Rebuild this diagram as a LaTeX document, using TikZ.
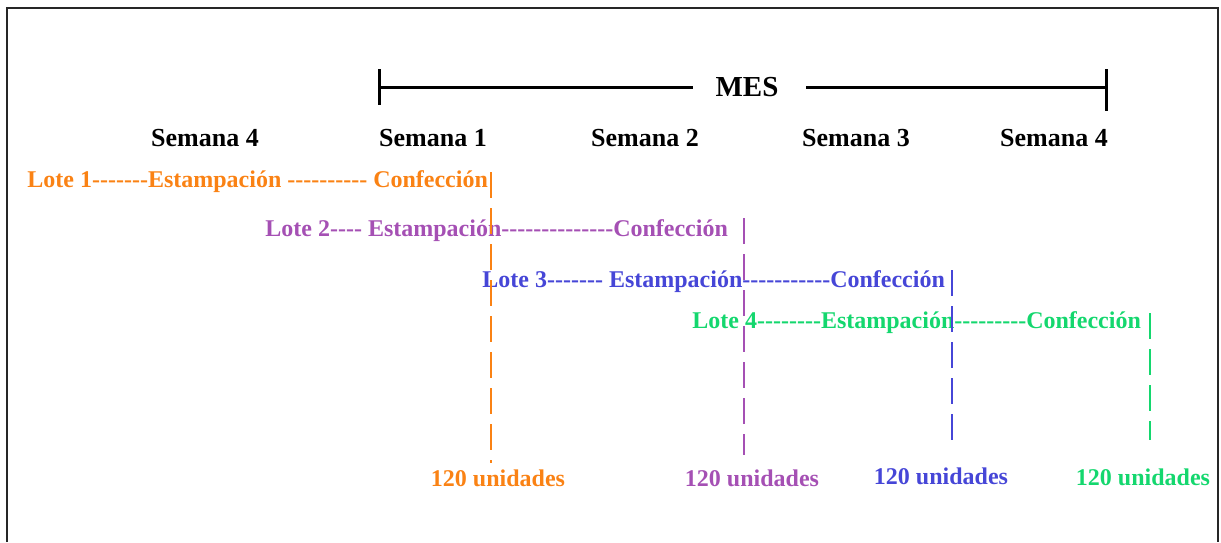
\documentclass[tikz,border=0pt]{standalone}
\usepackage{fontspec}
\setmainfont{Liberation Serif}[Ligatures=TeXOff]
\definecolor{cOne}{RGB}{250,130,20}
\definecolor{cTwo}{RGB}{165,80,180}
\definecolor{cThree}{RGB}{70,70,215}
\definecolor{cFour}{RGB}{20,215,110}
\begin{document}
\begin{tikzpicture}[x=0.5pt,y=-0.5pt,
  lote/.style={anchor=base west,inner sep=0pt,font=\fontsize{12pt}{14pt}\selectfont\bfseries},
  sem/.style={anchor=base,inner sep=0pt,font=\fontsize{13pt}{15pt}\selectfont\bfseries},
  unid/.style={anchor=base,inner sep=0pt,font=\fontsize{12pt}{14pt}\selectfont\bfseries},
  vline/.style={line width=0.75pt,dash pattern=on 13pt off 5pt}]
\useasboundingbox (0,0) rectangle (1221,542);
% frame
\draw[line width=0.6pt,black!85] (7,542) -- (7,8) -- (1218,8) -- (1218,542);
% MES bar
\node[sem,font=\fontsize{14.5pt}{16pt}\selectfont\bfseries] (mes) at (747,96) {MES};
\coordinate (mL) at (379,87);
\coordinate (mR) at (1106,87);
\coordinate (mL1) at (693,87);
\coordinate (mR1) at (806,87);
\draw[line width=1.5pt] (mL) -- (mL1);
\draw[line width=1.5pt] (mR1) -- (mR);
\draw[line width=1.5pt] (379,69) -- (379,105);
\draw[line width=1.5pt] (1106,69) -- (1106,111);
% weeks
\node[sem] (s0) at (205,146) {Semana 4};
\node[sem] (s1) at (433,146) {Semana 1};
\node[sem] (s2) at (645,146) {Semana 2};
\node[sem] (s3) at (856,146) {Semana 3};
\node[sem] (s4) at (1054,146) {Semana 4};
% lots
\node[lote,text=cOne] (l1) at (27,187) {Lote 1-------Estampación ---------- Confección};
\node[lote,text=cTwo] (l2) at (265,236) {Lote 2---- Estampación--------------Confección};
\node[lote,text=cThree] (l3) at (482,287) {Lote 3------- Estampación-----------Confección};
\node[lote,text=cFour] (l4) at (692,328) {Lote 4--------Estampación---------Confección};
% units
\node[unid,text=cOne] (u1) at (498,486) {120 unidades};
\node[unid,text=cTwo] (u2) at (752,486) {120 unidades};
\node[unid,text=cThree] (u3) at (941,484) {120 unidades};
\node[unid,text=cFour] (u4) at (1143,485) {120 unidades};
% vertical dashed lines
\coordinate (a1) at (491,172); \coordinate (b1) at (491,463);
\coordinate (a2) at (744,218); \coordinate (b2) at (744,455);
\coordinate (a3) at (952,270); \coordinate (b3) at (952,443);
\coordinate (a4) at (1150,313); \coordinate (b4) at (1150,440);
\draw[vline,cOne] (a1) -- (b1);
\draw[vline,cTwo] (a2) -- (b2);
\draw[vline,cThree] (a3) -- (b3);
\draw[vline,cFour] (a4) -- (b4);
\end{tikzpicture}
\end{document}
